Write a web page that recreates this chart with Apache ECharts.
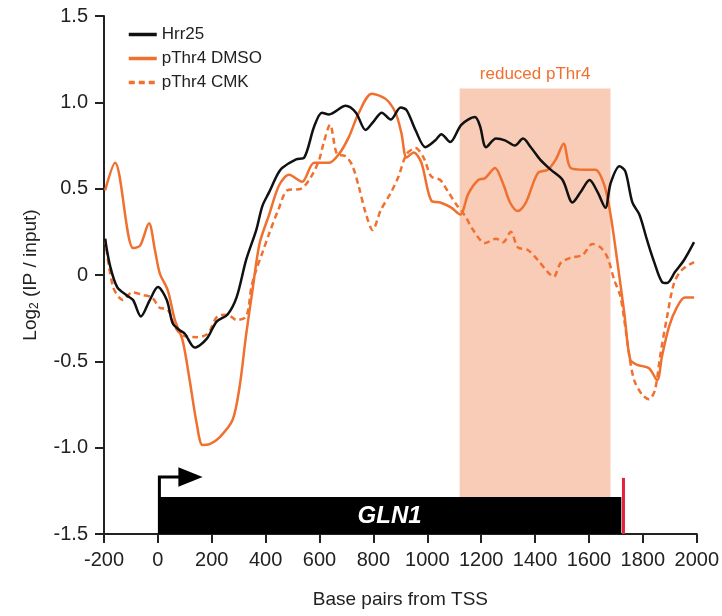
<!DOCTYPE html>
<html>
<head>
    <meta charset="utf-8">
    <title>GLN1</title>
    <script src="https://cdn.jsdelivr.net/npm/echarts@6/dist/echarts.min.js"></script>
    <style>
        html, body { margin: 0; padding: 0; background: #fff; }
        #main { width: 722px; height: 616px; }
    </style>
</head>
<body>
<div id="main"></div>
<script type="text/javascript">
    // axis ticks
    var xTicks = [-200, 0, 200, 400, 600, 800, 1000, 1200, 1400, 1600, 1800, 2000];
    var yTicks = [-1.5, -1.0, -0.5, 0, 0.5, 1.0, 1.5];
    var yTickLabels = ['-1.5', '-1.0', '-0.5', '0', '0.5', '1.0', '1.5'];

    // [bp from TSS, log2(IP/input)]
    var hrr25 = [
        [-196, 0.21], [-177, 0.05], [-151, -0.07], [-114, -0.12], [-92, -0.145], [-63, -0.24], [-30, -0.145],
        [0, -0.07], [33, -0.145], [55, -0.28], [81, -0.32], [100, -0.34], [137, -0.42], [181, -0.37],
        [218, -0.27], [258, -0.23], [292, -0.13], [328, 0.09], [365, 0.26], [388, 0.40], [413, 0.48],
        [443, 0.58], [461, 0.62], [513, 0.67], [543, 0.68], [580, 0.86], [609, 0.94], [635, 0.93],
        [697, 0.98], [735, 0.94], [771, 0.84], [801, 0.89], [831, 0.94], [864, 0.90], [901, 0.97],
        [923, 0.955], [956, 0.84], [993, 0.74], [1030, 0.78], [1052, 0.815], [1085, 0.77], [1126, 0.87],
        [1177, 0.915], [1196, 0.86], [1218, 0.74], [1255, 0.79], [1288, 0.78], [1325, 0.75], [1355, 0.79],
        [1384, 0.74], [1418, 0.67], [1458, 0.61], [1502, 0.55], [1539, 0.42], [1569, 0.48], [1602, 0.55],
        [1632, 0.48], [1661, 0.39], [1680, 0.53], [1713, 0.63], [1735, 0.60], [1761, 0.42], [1787, 0.35],
        [1816, 0.20], [1842, 0.075], [1871, -0.04], [1890, -0.046], [1919, 0.017], [1953, 0.087], [1990, 0.19]
    ];
    var dmso = [
        [-196, 0.49], [-159, 0.65], [-92, 0.156], [-66, 0.17], [-33, 0.30], [-11, 0.145], [7, 0.01],
        [37, -0.09], [63, -0.26], [92, -0.38], [118, -0.61], [144, -0.86], [166, -0.985], [192, -0.98],
        [229, -0.94], [277, -0.84], [303, -0.65], [328, -0.34], [351, -0.09], [377, 0.18], [413, 0.35],
        [450, 0.52], [487, 0.58], [535, 0.54], [580, 0.65], [635, 0.65], [672, 0.70], [709, 0.80],
        [746, 0.94], [794, 1.05], [845, 1.02], [882, 0.94], [904, 0.82], [923, 0.68], [949, 0.71],
        [978, 0.65], [1015, 0.43], [1048, 0.42], [1089, 0.39], [1122, 0.35], [1152, 0.47], [1189, 0.55],
        [1214, 0.56], [1251, 0.62], [1281, 0.53], [1307, 0.42], [1336, 0.37], [1366, 0.42], [1410, 0.59],
        [1447, 0.61], [1477, 0.67], [1506, 0.76], [1532, 0.62], [1584, 0.61], [1624, 0.61], [1657, 0.52],
        [1680, 0.35], [1705, 0.08], [1731, -0.22], [1753, -0.49], [1779, -0.52], [1823, -0.54], [1853, -0.61],
        [1871, -0.47], [1897, -0.30], [1927, -0.185], [1956, -0.13], [1990, -0.13]
    ];
    var cmk = [
        [-196, 0.21], [-166, -0.07], [-129, -0.145], [-96, -0.10], [-55, -0.116], [-22, -0.13], [7, -0.19],
        [37, -0.20], [63, -0.30], [92, -0.35], [144, -0.36], [185, -0.34], [221, -0.24], [258, -0.23],
        [292, -0.26], [328, -0.24], [347, -0.07], [365, 0.03], [388, 0.13], [413, 0.24], [450, 0.39],
        [480, 0.49], [532, 0.50], [569, 0.57], [598, 0.665], [616, 0.77], [639, 0.87], [665, 0.70],
        [694, 0.69], [720, 0.64], [746, 0.51], [771, 0.36], [797, 0.26], [827, 0.375], [864, 0.475],
        [893, 0.57], [923, 0.70], [956, 0.735], [986, 0.68], [1015, 0.57], [1048, 0.55], [1078, 0.48],
        [1107, 0.41], [1141, 0.34], [1170, 0.26], [1214, 0.185], [1255, 0.21], [1281, 0.19], [1310, 0.25],
        [1336, 0.16], [1373, 0.145], [1410, 0.087], [1447, 0.017], [1469, -0.01], [1495, 0.07], [1532, 0.10],
        [1576, 0.116], [1613, 0.18], [1643, 0.16], [1669, 0.10], [1694, -0.03], [1716, -0.12], [1731, -0.26],
        [1750, -0.47], [1768, -0.61], [1798, -0.695], [1823, -0.72], [1845, -0.665], [1864, -0.47],
        [1890, -0.24], [1916, -0.046], [1945, 0.03], [1990, 0.075]
    ];

    // gene annotation (bp / y units)
    var geneStart = 0, geneEnd = 1720, geneTop = -1.285;
    var ttsPos = 1728, ttsTop = -1.175;
    var arrowY = -1.17, arrowTip = 166, arrowBase = 76, arrowHalf = 0.056;
    var regionStart = 1120, regionEnd = 1680, regionTop = 1.08;

    var orange = '#f0702f';
    var font = 'Liberation Sans, Arial, sans-serif';

    var chart = echarts.init(document.getElementById('main'));

    function drawAnnotations(params, api) {
        var yMin = yTicks[0];
        var r0 = api.coord([regionStart, regionTop]);
        var r1 = api.coord([regionEnd, geneTop]);
        var g0 = api.coord([geneStart, geneTop]);
        var g1 = api.coord([geneEnd, yMin]);
        var t0 = api.coord([ttsPos, ttsTop]);
        var t1 = api.coord([ttsPos, yMin]);
        var a1 = api.coord([geneStart, arrowY]);
        var a2 = api.coord([arrowBase + 10, arrowY]);
        var tip = api.coord([arrowTip, arrowY]);
        var hb = api.coord([arrowBase, arrowY + arrowHalf]);
        var hb2 = api.coord([arrowBase, arrowY - arrowHalf]);
        return {
            type: 'group',
            children: [
                {
                    type: 'rect',
                    shape: {x: r0[0], y: r0[1], width: r1[0] - r0[0], height: r1[1] - r0[1]},
                    style: {fill: '#f9ccb7'}
                },
                {
                    type: 'text',
                    style: {
                        x: (r0[0] + r1[0]) / 2, y: r0[1] - 6, text: 'reduced pThr4',
                        fill: orange, font: '17px ' + font, align: 'center', verticalAlign: 'bottom'
                    }
                },
                {
                    type: 'rect',
                    shape: {x: g0[0], y: g0[1], width: g1[0] - g0[0], height: g1[1] - g0[1]},
                    style: {fill: '#000'}
                },
                {
                    type: 'text',
                    style: {
                        x: (g0[0] + g1[0]) / 2, y: (g0[1] + g1[1]) / 2 + 1, text: 'GLN1',
                        fill: '#fff', font: 'italic bold 24px ' + font, align: 'center', verticalAlign: 'middle'
                    }
                },
                {
                    type: 'line',
                    shape: {x1: t0[0], y1: t0[1], x2: t1[0], y2: t1[1]},
                    style: {stroke: '#e8213a', lineWidth: 3}
                },
                {
                    type: 'polyline',
                    shape: {points: [[g0[0] + 1.5, g0[1]], [a1[0] + 1.5, a1[1]], a2]},
                    style: {stroke: '#000', lineWidth: 3, fill: null}
                },
                {
                    type: 'polygon',
                    shape: {points: [hb, tip, hb2]},
                    style: {fill: '#000'}
                }
            ]
        };
    }

    var option = {
        animation: false,
        textStyle: {fontFamily: font},
        grid: {left: 104, right: 22, top: 16, bottom: 82, containLabel: false},
        legend: {
            orient: 'vertical',
            left: 122,
            top: 21,
            itemWidth: 28,
            itemHeight: 14,
            itemGap: 7,
            itemStyle: {opacity: 0},
            lineStyle: {width: 3.5},
            textStyle: {fontSize: 17, color: '#222', fontFamily: font},
            data: ['Hrr25', 'pThr4 DMSO', 'pThr4 CMK']
        },
        xAxis: {
            type: 'value',
            min: xTicks[0],
            max: xTicks[xTicks.length - 1],
            interval: 200,
            name: 'Base pairs from TSS',
            nameLocation: 'middle',
            nameGap: 56,
            nameTextStyle: {fontSize: 19, color: '#222'},
            axisLine: {onZero: false, lineStyle: {color: '#222', width: 2}},
            axisTick: {inside: false, length: 9, lineStyle: {color: '#222', width: 2}},
            axisLabel: {
                fontSize: 20, color: '#222', margin: 16,
                formatter: function (v) { return String(v); }
            },
            splitLine: {show: false}
        },
        yAxis: {
            type: 'value',
            min: yTicks[0],
            max: yTicks[yTicks.length - 1],
            interval: 0.5,
            name: '{a|Log}{s|2}{a| (IP / input)}',
            nameLocation: 'middle',
            nameRotate: 90,
            nameGap: 63,
            nameTextStyle: {
                rich: {
                    a: {fontSize: 19, color: '#222', fontFamily: font},
                    s: {fontSize: 12, color: '#222', fontFamily: font, verticalAlign: 'bottom', padding: [8, 0, 0, 0]}
                }
            },
            axisLine: {show: true, onZero: false, lineStyle: {color: '#222', width: 2}},
            axisTick: {show: true, length: 9, lineStyle: {color: '#222', width: 2}},
            axisLabel: {
                fontSize: 20, color: '#222', margin: 16,
                formatter: function (v) {
                    var i = yTicks.indexOf(Math.round(v * 10) / 10);
                    return i >= 0 ? yTickLabels[i] : '';
                }
            },
            splitLine: {show: false}
        },
        series: [
            {
                type: 'custom',
                z: 1,
                silent: true,
                renderItem: drawAnnotations,
                data: [[0, 0]]
            },
            {
                name: 'pThr4 CMK',
                type: 'line',
                z: 3,
                data: cmk,
                smooth: 0.3,
                symbol: 'none',
                lineStyle: {color: orange, width: 2.5, type: [6, 4]},
                itemStyle: {color: orange}
            },
            {
                name: 'pThr4 DMSO',
                type: 'line',
                z: 4,
                data: dmso,
                smooth: 0.3,
                symbol: 'none',
                lineStyle: {color: orange, width: 2.5},
                itemStyle: {color: orange}
            },
            {
                name: 'Hrr25',
                type: 'line',
                z: 5,
                data: hrr25,
                smooth: 0.3,
                symbol: 'none',
                lineStyle: {color: '#111', width: 2.5},
                itemStyle: {color: '#111'}
            }
        ]
    };
    chart.setOption(option);
</script>
</body>
</html>
